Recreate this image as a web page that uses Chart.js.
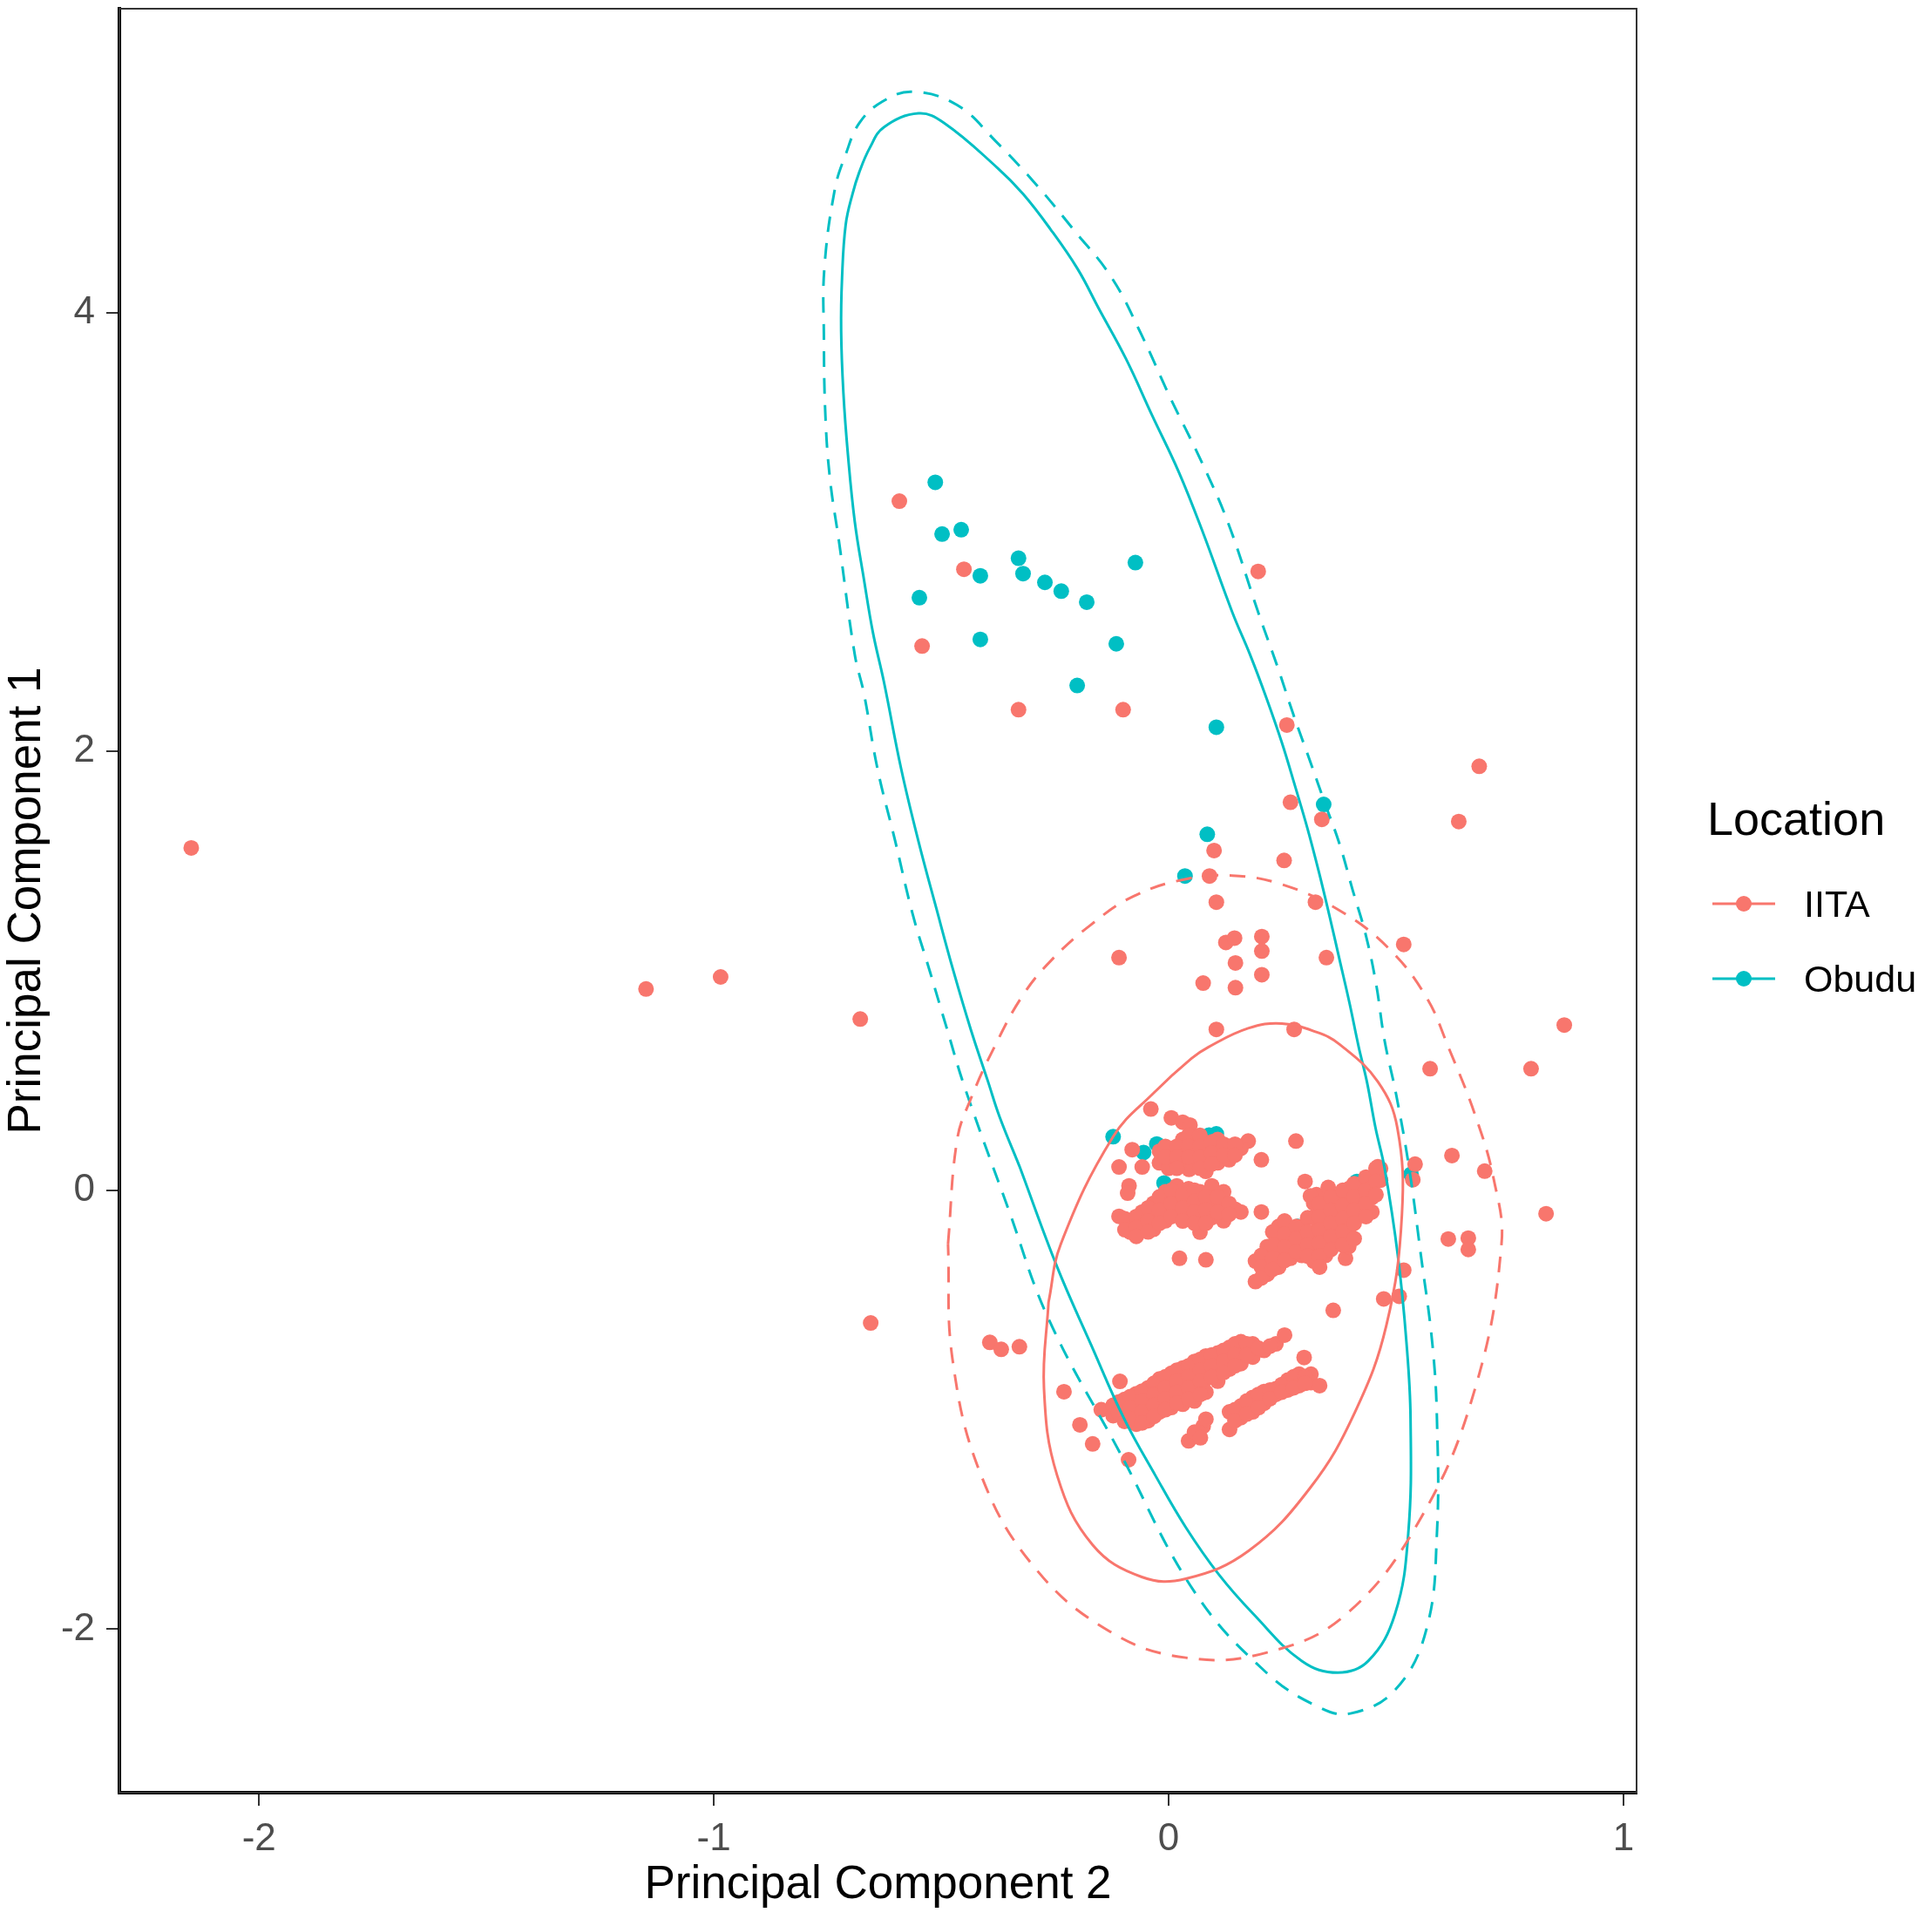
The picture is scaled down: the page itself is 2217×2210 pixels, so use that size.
<!DOCTYPE html>
<html>
<head>
<meta charset="utf-8">
<title>PCA by Location</title>
<script src="https://cdn.jsdelivr.net/npm/chart.js@4.4.1/dist/chart.umd.min.js"></script>
<style>
  html, body { margin: 0; padding: 0; background: #fff; }
  #wrap { position: relative; width: 2217px; height: 2210px; }
  #legend { position: absolute; left: 0; top: 0; font-family: "Liberation Sans", Arial, sans-serif; color: #000; }
  #legend .title { position: absolute; left: 1959px; top: 912px; font-size: 54px; line-height: 54px; white-space: nowrap; }
  #legend .key { position: absolute; left: 1965px; }
  #legend .label { position: absolute; left: 2070px; font-size: 43px; line-height: 43px; white-space: nowrap; }
</style>
</head>
<body>
<div id="wrap">
  <canvas id="pcaChart"></canvas>
  <div id="legend"></div>
</div>
<script>
// groups and axis ticks
const locations = ['IITA', 'Obudu'];
const locationColors = ['#F8766D', '#00BFC4'];
const xTicks = [-2, -1, 0, 1];
const yTicks = [-2, 0, 2, 4];

// IITA scores [PC2, PC1]
const iitaPoints = [
  // scattered
  [-2.149, 1.56], [-1.149, 0.917], [-0.985, 0.972], [-0.678, 0.78], [-0.655, -0.605],
  [-0.592, 3.14], [-0.45, 2.83], [-0.542, 2.48], [-0.33, 2.19], [-0.10, 2.19],
  [0.197, 2.82], [0.26, 2.12], [0.683, 1.932], [0.638, 1.68], [0.268, 1.768], [0.337, 1.69],
  [0.10, 1.548], [0.254, 1.503], [0.09, 1.432], [0.105, 1.313], [0.323, 1.313], [0.517, 1.12],
  [-0.109, 1.06], [0.126, 1.129], [0.145, 1.149], [0.205, 1.156], [0.205, 1.09], [0.147, 1.036],
  [0.205, 0.982], [0.076, 0.944], [0.147, 0.923], [0.347, 1.06], [0.105, 0.733], [0.276, 0.733],
  [0.87, 0.753], [0.575, 0.554], [0.797, 0.554], [0.623, 0.158], [0.695, 0.087], [0.542, 0.119],
  [0.537, 0.048], [0.83, -0.107], [0.615, -0.222], [0.659, -0.218], [0.659, -0.27], [0.517, -0.364],
  [0.473, -0.495], [0.507, -0.483], [0.362, -0.547], [-0.393, -0.693], [-0.368, -0.725], [-0.328, -0.713],
  [-0.23, -0.918], [-0.107, -0.871], [-0.195, -1.069], [-0.167, -1.156], [-0.088, -1.228], [0.298, -0.762],
  [0.46, 0.107], [0.389, -0.31], [0.204, -0.099], [0.024, -0.31], [0.082, -0.317],
  [-0.087, 0.02], [-0.09, -0.013],
  // upper left group
  [-0.039, 0.37], [0.006, 0.33], [0.031, 0.31], [0.047, 0.297], [0.175, 0.224], [0.204, 0.139], [0.28, 0.224],
  [-0.08, 0.185], [-0.109, 0.106], [-0.058, 0.106],
  [-0.02, 0.178], [-0.02, 0.125], [0.006, 0.178], [0.006, 0.125], [0.031, 0.231], [0.031, 0.178], [0.031, 0.125],
  [0.057, 0.231], [0.057, 0.178], [0.057, 0.125], [0.082, 0.205], [0.082, 0.152], [0.082, 0.086],
  [0.108, 0.231], [0.108, 0.178], [0.108, 0.125], [0.133, 0.191], [0.133, 0.139], [0.159, 0.191],
  [0.0, 0.1], [0.045, 0.095],
  [-0.007, 0.20], [-0.007, 0.15], [0.018, 0.20], [0.018, 0.15], [0.018, 0.10], [0.044, 0.25], [0.044, 0.20], [0.044, 0.15],
  [0.069, 0.25], [0.069, 0.20], [0.069, 0.15], [0.069, 0.10], [0.095, 0.22], [0.095, 0.17], [0.095, 0.12],
  [0.121, 0.21], [0.121, 0.16], [0.146, 0.21], [0.146, 0.16],
  // middle left group
  [-0.109, -0.119], [-0.084, -0.139], [-0.084, -0.191], [-0.058, -0.099], [-0.058, -0.165],
  [-0.033, -0.059], [-0.033, -0.125], [-0.033, -0.178], [-0.007, -0.007], [-0.007, -0.073], [-0.007, -0.139],
  [0.018, 0.02], [0.018, -0.046], [0.018, -0.112], [0.044, 0.007], [0.044, -0.059], [0.044, -0.125],
  [0.069, -0.007], [0.069, -0.073], [0.069, -0.139], [0.069, -0.191], [0.095, 0.02], [0.095, -0.059], [0.095, -0.125],
  [0.121, -0.007], [0.121, -0.073], [0.121, -0.139], [0.146, -0.086], [0.159, -0.099],
  [-0.096, -0.13], [-0.096, -0.18], [-0.071, -0.12], [-0.071, -0.17], [-0.071, -0.21], [-0.045, -0.08], [-0.045, -0.14], [-0.045, -0.19],
  [-0.02, -0.03], [-0.02, -0.09], [-0.02, -0.15], [0.006, 0.0], [0.006, -0.06], [0.006, -0.12],
  [0.031, -0.02], [0.031, -0.08], [0.031, -0.14], [0.057, 0.0], [0.057, -0.05], [0.057, -0.10], [0.057, -0.15],
  [0.082, -0.03], [0.082, -0.09], [0.082, -0.15], [0.108, -0.03], [0.108, -0.10], [0.133, -0.06], [0.133, -0.11],
  // right group
  [0.191, -0.323], [0.191, -0.416], [0.217, -0.257], [0.217, -0.323], [0.217, -0.383],
  [0.242, -0.165], [0.242, -0.231], [0.242, -0.297], [0.242, -0.35],
  [0.268, -0.178], [0.268, -0.244], [0.268, -0.31], [0.293, -0.165], [0.293, -0.231], [0.293, -0.297],
  [0.319, -0.059], [0.319, -0.125], [0.319, -0.191], [0.319, -0.257], [0.319, -0.323],
  [0.345, -0.033], [0.345, -0.099], [0.345, -0.165], [0.345, -0.231], [0.345, -0.297],
  [0.37, -0.033], [0.37, -0.099], [0.37, -0.165], [0.37, -0.231],
  [0.396, 0.007], [0.396, -0.059], [0.396, -0.125], [0.396, -0.191], [0.396, -0.257],
  [0.421, 0.02], [0.421, -0.046], [0.421, -0.112], [0.447, 0.033], [0.447, -0.033], [0.447, -0.099],
  [0.466, 0.099], [0.466, 0.046],
  [0.30, 0.04], [0.325, -0.02], [0.351, 0.013], [0.354, -0.046], [0.312, -0.026],
  [0.204, -0.297], [0.204, -0.35], [0.204, -0.40], [0.229, -0.19], [0.229, -0.25], [0.229, -0.31], [0.229, -0.36],
  [0.255, -0.14], [0.255, -0.20], [0.255, -0.26], [0.255, -0.32], [0.281, -0.165], [0.281, -0.22], [0.281, -0.28],
  [0.306, -0.125], [0.306, -0.19], [0.306, -0.25], [0.306, -0.30],
  [0.332, -0.06], [0.332, -0.12], [0.332, -0.18], [0.332, -0.24], [0.332, -0.30], [0.332, -0.35],
  [0.357, -0.03], [0.357, -0.09], [0.357, -0.15], [0.357, -0.21], [0.357, -0.27],
  [0.383, 0.0], [0.383, -0.07], [0.383, -0.13], [0.383, -0.19], [0.383, -0.25],
  [0.408, 0.03], [0.408, -0.03], [0.408, -0.09], [0.408, -0.15], [0.408, -0.22],
  [0.434, 0.06], [0.434, 0.0], [0.434, -0.06], [0.434, -0.12], [0.456, 0.10], [0.456, 0.04], [0.456, -0.02],
  // lower streak
  [-0.148, -1.0], [-0.122, -0.98], [-0.122, -1.027], [-0.097, -0.953], [-0.097, -1.0], [-0.097, -1.053],
  [-0.071, -0.927], [-0.071, -0.975], [-0.071, -1.022], [-0.071, -1.066],
  [-0.045, -0.9], [-0.045, -0.95], [-0.045, -1.0], [-0.045, -1.05],
  [-0.02, -0.86], [-0.02, -0.91], [-0.02, -0.96], [-0.02, -1.01],
  [0.006, -0.834], [0.006, -0.885], [0.006, -0.935], [0.006, -0.99],
  [0.031, -0.81], [0.031, -0.86], [0.031, -0.91], [0.031, -0.975],
  [0.057, -0.78], [0.057, -0.83], [0.057, -0.88], [0.057, -0.96],
  [0.082, -0.755], [0.082, -0.81], [0.082, -0.86], [0.082, -0.92],
  [0.108, -0.742], [0.108, -0.79], [0.108, -0.87], [0.134, -0.716], [0.134, -0.76], [0.134, -0.815],
  [0.159, -0.69], [0.159, -0.74], [0.159, -0.79], [0.185, -0.70], [0.185, -0.76],
  [0.21, -0.73], [0.236, -0.70], [0.255, -0.66],
  [-0.11, -0.965], [-0.11, -1.015], [-0.084, -0.94], [-0.084, -0.99], [-0.084, -1.04],
  [-0.058, -0.915], [-0.058, -0.96], [-0.058, -1.01], [-0.058, -1.06], [-0.032, -0.88], [-0.032, -0.93], [-0.032, -0.98], [-0.032, -1.03],
  [-0.007, -0.85], [-0.007, -0.90], [-0.007, -0.95], [-0.007, -1.0], [0.018, -0.82], [0.018, -0.87], [0.018, -0.92], [0.018, -0.97],
  [0.044, -0.80], [0.044, -0.85], [0.044, -0.90], [0.044, -0.95], [0.07, -0.77], [0.07, -0.82], [0.07, -0.87], [0.07, -0.93],
  [0.095, -0.75], [0.095, -0.80], [0.095, -0.85], [0.121, -0.73], [0.121, -0.78], [0.121, -0.83],
  [0.146, -0.70], [0.146, -0.75], [0.146, -0.80], [0.172, -0.70], [0.172, -0.75], [0.198, -0.72], [0.223, -0.71],
  // second lower streak
  [0.134, -1.01], [0.134, -1.09], [0.159, -0.983], [0.159, -1.036], [0.185, -0.944], [0.185, -1.01],
  [0.21, -0.917], [0.21, -0.97], [0.236, -0.904], [0.236, -0.93], [0.262, -0.865], [0.262, -0.91],
  [0.287, -0.838], [0.287, -0.89], [0.313, -0.838], [0.313, -0.877], [0.332, -0.89],
  [0.146, -1.0], [0.146, -1.05], [0.172, -0.96], [0.172, -1.02], [0.198, -0.93], [0.198, -0.99],
  [0.223, -0.91], [0.223, -0.95], [0.249, -0.885], [0.249, -0.92], [0.275, -0.85], [0.275, -0.90], [0.30, -0.85], [0.30, -0.88],
  [0.044, -1.142], [0.057, -1.102], [0.076, -1.076], [0.082, -1.043], [0.07, -1.128]
];

// Obudu scores [PC2, PC1]
const obuduPoints = [
  [-0.513, 3.226], [-0.498, 2.99], [-0.456, 3.01], [-0.33, 2.88], [-0.32, 2.81], [-0.414, 2.80],
  [-0.272, 2.77], [-0.236, 2.73], [-0.18, 2.68], [-0.073, 2.86], [-0.548, 2.70], [-0.414, 2.51],
  [-0.115, 2.49], [-0.201, 2.30], [0.105, 2.11], [0.341, 1.758], [0.085, 1.622], [0.036, 1.432],
  [-0.122, 0.244], [-0.055, 0.172], [-0.026, 0.211], [0.089, 0.251], [0.105, 0.257],
  [0.414, 0.04], [0.344, -0.12], [0.284, -0.165], [0.533, 0.073], [0.031, -0.046], [-0.01, 0.033]
];

// ellipse outlines [PC2, PC1]
const obuduEllipseSolid = [
  [-0.328, 0.11], [-0.372, 0.337], [-0.397, 0.495], [-0.435, 0.733], [-0.473, 0.998], [-0.511, 1.287],
  [-0.55, 1.59], [-0.588, 1.92], [-0.626, 2.317], [-0.65, 2.54], [-0.67, 2.785], [-0.69, 3.046],
  [-0.705, 3.35], [-0.715, 3.632], [-0.72, 3.917], [-0.718, 4.158], [-0.71, 4.40], [-0.695, 4.54],
  [-0.68, 4.64], [-0.657, 4.75], [-0.626, 4.844], [-0.55, 4.907],
  [-0.494, 4.864], [-0.377, 4.66], [-0.32, 4.54], [-0.26, 4.38], [-0.20, 4.198],
  [-0.153, 4.016], [-0.094, 3.79], [-0.036, 3.53], [0.023, 3.27], [0.075, 3.0], [0.14, 2.634],
  [0.18, 2.436], [0.216, 2.238], [0.249, 2.04], [0.278, 1.842], [0.306, 1.644], [0.331, 1.446],
  [0.354, 1.248], [0.376, 1.05], [0.398, 0.851], [0.418, 0.653], [0.436, 0.495], [0.455, 0.284],
  [0.475, 0.10], [0.504, -0.297], [0.523, -0.693], [0.532, -1.04], [0.527, -1.564], [0.498, -1.93],
  [0.439, -2.145], [0.372, -2.198], [0.293, -2.145], [0.186, -1.93], [0.11, -1.75], [0.038, -1.537],
  [-0.029, -1.30], [-0.098, -1.04], [-0.17, -0.706], [-0.245, -0.35], [-0.328, 0.11]
];
const obuduEllipseDashed = [
  [-0.107, -1.196], [-0.264, -0.586], [-0.352, -0.087], [-0.448, 0.467], [-0.487, 0.733], [-0.525, 0.998],
  [-0.563, 1.26], [-0.601, 1.59], [-0.64, 1.92], [-0.67, 2.265], [-0.69, 2.44], [-0.724, 2.946],
  [-0.745, 3.25], [-0.755, 3.55], [-0.758, 3.9], [-0.757, 4.198], [-0.734, 4.56], [-0.71, 4.72],
  [-0.68, 4.863], [-0.63, 4.96], [-0.563, 5.006], [-0.465, 4.945], [-0.38, 4.78], [-0.29, 4.58],
  [-0.21, 4.38], [-0.125, 4.158], [-0.06, 3.9], [0.004, 3.61], [0.07, 3.33], [0.13, 3.046],
  [0.197, 2.634], [0.242, 2.37], [0.274, 2.17], [0.312, 1.95], [0.344, 1.762], [0.376, 1.577],
  [0.405, 1.366], [0.433, 1.168], [0.456, 0.943], [0.475, 0.681], [0.5, 0.44], [0.529, 0.10],
  [0.555, -0.3], [0.58, -0.7], [0.59, -1.04], [0.59, -1.564], [0.567, -2.0], [0.498, -2.277],
  [0.40, -2.384], [0.331, -2.356], [0.215, -2.198], [0.057, -1.83], [-0.107, -1.196]
];
const iitaEllipseSolid = [
  [-0.264, -0.51], [-0.237, -0.245], [-0.122, 0.244], [-0.033, 0.443], [0.05, 0.60],
  [0.088, 0.653], [0.175, 0.738], [0.249, 0.76], [0.326, 0.72], [0.376, 0.665], [0.46, 0.495],
  [0.503, 0.284], [0.513, -0.112], [0.479, -0.614], [0.41, -1.01], [0.312, -1.354], [0.176, -1.643],
  [0.038, -1.77], [-0.059, -1.762], [-0.167, -1.616], [-0.245, -1.30], [-0.274, -0.903], [-0.264, -0.51]
];
const iitaEllipseDashed = [
  [-0.485, -0.245], [-0.465, 0.23], [-0.435, 0.416], [-0.383, 0.653], [-0.32, 0.89], [-0.257, 1.05],
  [-0.172, 1.208], [-0.077, 1.34], [0.038, 1.418], [0.14, 1.434], [0.249, 1.394], [0.376, 1.275],
  [0.485, 1.10], [0.567, 0.879], [0.615, 0.653], [0.675, 0.337], [0.715, 0.05], [0.732, -0.245],
  [0.674, -0.903], [0.557, -1.485], [0.39, -1.933], [0.215, -2.107], [0.038, -2.13], [-0.128, -2.012],
  [-0.293, -1.723], [-0.412, -1.30], [-0.475, -0.772], [-0.485, -0.245]
];

const toXY = arr => arr.map(p => ({ x: p[0], y: p[1] }));

function ellipseSet(points, color, dashed) {
  return {
    data: toXY(points),
    showLine: true,
    borderColor: color,
    borderWidth: 3,
    borderDash: dashed ? [18, 13] : [],
    tension: 0.4,
    fill: false,
    pointRadius: 0,
    pointHoverRadius: 0
  };
}

function pointSet(points, color, label) {
  return {
    label: label,
    data: toXY(points),
    showLine: false,
    backgroundColor: color,
    borderWidth: 0,
    pointRadius: 9,
    pointHoverRadius: 9
  };
}

// keep the panel exactly where the plot sits, no extra label padding
function fixBox(size, key) {
  return s => {
    s[key] = size;
    s.paddingTop = 0; s.paddingBottom = 0; s.paddingLeft = 0; s.paddingRight = 0;
  };
}

Chart.defaults.font.family = '"Liberation Sans", Arial, sans-serif';

// full panel border like the ggplot box
const panelBox = {
  id: 'panelBox',
  afterDraw(chart) {
    const { ctx, chartArea: a } = chart;
    ctx.save();
    ctx.strokeStyle = '#333';
    ctx.lineWidth = 2;
    ctx.strokeRect(a.left, a.top, a.right - a.left, a.bottom - a.top);
    ctx.restore();
  }
};

const ctx = document.getElementById('pcaChart').getContext('2d');
new Chart(ctx, {
  type: 'scatter',
  data: {
    datasets: [
      // first dataset is drawn on top
      ellipseSet(iitaEllipseSolid, locationColors[0], false),
      ellipseSet(iitaEllipseDashed, locationColors[0], true),
      ellipseSet(obuduEllipseSolid, locationColors[1], false),
      ellipseSet(obuduEllipseDashed, locationColors[1], true),
      pointSet(iitaPoints, locationColors[0], locations[0]),
      pointSet(obuduPoints, locationColors[1], locations[1])
    ]
  },
  options: {
    responsive: true,
    maintainAspectRatio: false,
    animation: false,
    layout: { padding: { top: 10, right: 339, left: 0, bottom: 0 } },
    plugins: {
      legend: { display: false },
      tooltip: { enabled: false }
    },
    scales: {
      x: {
        type: 'linear',
        min: -2.307,
        max: 1.029,
        afterBuildTicks: s => { s.ticks = xTicks.map(v => ({ value: v })); },
        afterFit: fixBox(153, 'height'),
        grid: { drawOnChartArea: false, color: '#333', lineWidth: 2, tickLength: 15 },
        border: { color: '#000', width: 4 },
        ticks: { color: '#4D4D4D', font: { size: 44 }, padding: 12, maxRotation: 0 },
        title: {
          display: true,
          text: 'Principal Component 2',
          color: '#000',
          font: { size: 53 },
          padding: { top: 0, bottom: 15 }
        }
      },
      y: {
        type: 'linear',
        min: -2.745,
        max: 5.384,
        afterBuildTicks: s => { s.ticks = yTicks.map(v => ({ value: v })); },
        afterFit: fixBox(137, 'width'),
        grid: { drawOnChartArea: false, color: '#333', lineWidth: 2, tickLength: 15 },
        border: { color: '#000', width: 4 },
        ticks: { color: '#4D4D4D', font: { size: 44 }, padding: 13 },
        title: {
          display: true,
          text: 'Principal Component 1',
          color: '#000',
          font: { size: 53 },
          padding: { top: 0, bottom: 0 }
        }
      }
    }
  },
  plugins: [panelBox]
});

// legend: line + point keys, like ggplot
const legendEl = document.getElementById('legend');
const keyCenters = [1037, 1123];
let html = '<div class="title">Location</div>';
locations.forEach((name, i) => {
  const c = locationColors[i];
  const top = keyCenters[i] - 12;
  html += '<svg class="key" style="top:' + top + 'px" width="72" height="24">' +
    '<line x1="0" y1="12" x2="72" y2="12" stroke="' + c + '" stroke-width="3"/>' +
    '<circle cx="36" cy="12" r="9" fill="' + c + '"/></svg>';
  html += '<div class="label" style="top:' + (keyCenters[i] - 21) + 'px">' + name + '</div>';
});
legendEl.innerHTML = html;
</script>
</body>
</html>
